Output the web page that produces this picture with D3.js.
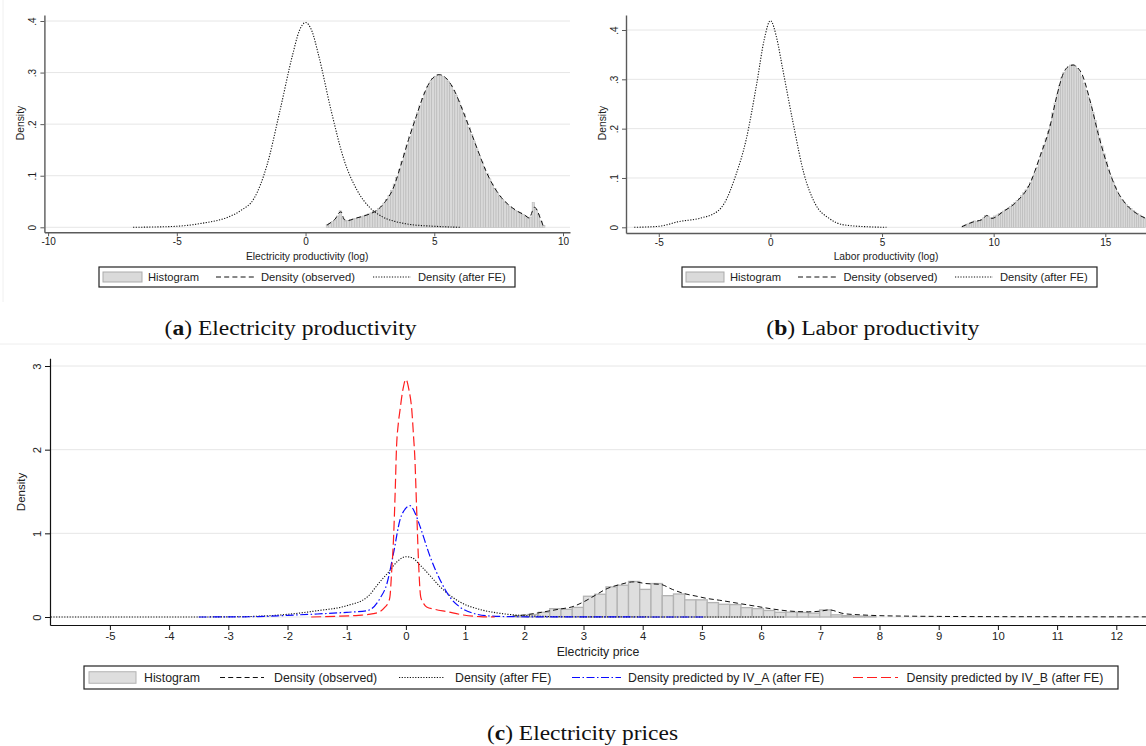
<!DOCTYPE html>
<html>
<head>
<meta charset="utf-8">
<script src="https://cdn.jsdelivr.net/npm/d3@7"></script>
<style>
  body { margin: 0; background: #fff; }
  svg { display: block; font-family: "Liberation Sans", Arial, sans-serif; }
</style>
</head>
<body>
<svg id="chart" width="1146" height="746"></svg>
<script>
// ---------- panel (a) electricity productivity (log) ----------
var aHistStart = 0.8, aHistWidth = 0.1;
var aHist = [0.006, 0.008, 0.011, 0.014, 0.022, 0.032, 0.018, 0.012, 0.013, 0.015,
             0.016, 0.017, 0.019, 0.020, 0.022, 0.024, 0.026, 0.028, 0.031, 0.033,
             0.037, 0.041, 0.047, 0.054, 0.062, 0.072, 0.084, 0.097, 0.112, 0.128,
             0.144, 0.160, 0.176, 0.192, 0.207, 0.222, 0.237, 0.250, 0.262, 0.273,
             0.282, 0.289, 0.293, 0.296, 0.295, 0.292, 0.288, 0.283, 0.275, 0.266,
             0.256, 0.245, 0.233, 0.220, 0.207, 0.194, 0.180, 0.166, 0.152, 0.139,
             0.127, 0.115, 0.104, 0.094, 0.084, 0.075, 0.067, 0.060, 0.054, 0.049,
             0.044, 0.040, 0.036, 0.033, 0.030, 0.028, 0.025, 0.022, 0.018, 0.020,
             0.048, 0.035, 0.025, 0.012, 0.004];
var aObsX = [0.83, 1.0, 1.15, 1.3, 1.38, 1.5, 1.65, 1.9, 2.2, 2.5, 2.8, 3.1, 3.4, 3.7, 4.0, 4.3, 4.6, 4.9,
             5.2, 5.5, 5.8, 6.1, 6.4, 6.7, 7.0, 7.3, 7.6, 7.9, 8.2, 8.5, 8.7, 8.8, 8.9, 9.0, 9.1, 9.25];
var aObsY = [0.004, 0.01, 0.016, 0.028, 0.03, 0.015, 0.013, 0.017, 0.021, 0.026, 0.034, 0.05, 0.075, 0.12,
             0.17, 0.215, 0.258, 0.287, 0.296, 0.287, 0.263, 0.227, 0.188, 0.148, 0.11, 0.08, 0.058,
             0.043, 0.032, 0.024, 0.018, 0.03, 0.039, 0.032, 0.02, 0.0];
var aFeX = [-6.7, -6, -5, -4, -3, -2.5, -2, -1.5, -1, -0.5, -0.25, 0, 0.25, 0.5, 1, 1.5, 2, 2.5, 3, 3.5, 4, 5, 6];
var aFeY = [0, 0.0005, 0.002, 0.008, 0.02, 0.033, 0.056, 0.12, 0.225, 0.335, 0.38, 0.397, 0.38, 0.335,
            0.225, 0.13, 0.072, 0.038, 0.02, 0.011, 0.006, 0.002, 0];
var aXTicks = [-10, -5, 0, 5, 10];
var aYTicks = [0, 0.1, 0.2, 0.3, 0.4];

// ---------- panel (b) labor productivity (log) ----------
var bHistStart = 8.6, bHistWidth = 0.1;
var bHist = [0.003, 0.005, 0.007, 0.009, 0.011, 0.013, 0.012, 0.014, 0.016, 0.019,
             0.024, 0.023, 0.019, 0.020, 0.023, 0.025, 0.028, 0.030, 0.033, 0.036,
             0.039, 0.042, 0.046, 0.050, 0.054, 0.059, 0.064, 0.070, 0.076, 0.083,
             0.091, 0.100, 0.110, 0.122, 0.138, 0.152, 0.166, 0.180, 0.194, 0.209,
             0.232, 0.252, 0.270, 0.288, 0.303, 0.314, 0.321, 0.326, 0.329, 0.330,
             0.327, 0.322, 0.315, 0.305, 0.292, 0.278, 0.264, 0.249, 0.233, 0.217,
             0.198, 0.181, 0.165, 0.149, 0.133, 0.118, 0.104, 0.092, 0.082, 0.072,
             0.063, 0.056, 0.050, 0.046, 0.042, 0.038, 0.034, 0.031, 0.028, 0.025,
             0.022, 0.019];
var bObsX = [8.57, 9.09, 9.5, 9.69, 9.91, 10.43, 11.03, 11.63, 12.07, 12.52, 12.82, 13.12, 13.35, 13.56,
             13.75, 13.94, 14.31, 14.68, 15.06, 15.51, 15.96, 16.4, 16.82];
var bObsY = [0.001, 0.011, 0.016, 0.024, 0.018, 0.032, 0.052, 0.089, 0.143, 0.204, 0.265, 0.312, 0.326,
             0.329, 0.324, 0.312, 0.258, 0.19, 0.13, 0.076, 0.045, 0.028, 0.018];
var bFeX = [-6.1, -5, -4.65, -4.16, -3.19, -2.38, -2.06, -1.57, -1.09, -0.61, -0.28, 0, 0.3, 0.53, 1.02,
            1.5, 1.99, 2.63, 3.28, 4.4, 5.2];
var bFeY = [0, 0.002, 0.005, 0.011, 0.018, 0.032, 0.049, 0.103, 0.177, 0.292, 0.38, 0.419, 0.38, 0.326,
            0.211, 0.109, 0.049, 0.018, 0.005, 0.001, 0];
var bXTicks = [-5, 0, 5, 10, 15];
var bYTicks = [0, 0.1, 0.2, 0.3, 0.4];

// ---------- panel (c) electricity prices ----------
var cHistStart = 1.86, cHistWidth = 0.19;
var cHist = [0.012, 0.03, 0.056, 0.10, 0.092, 0.115, 0.248, 0.272, 0.36, 0.38, 0.425, 0.33, 0.40, 0.255,
             0.275, 0.205, 0.205, 0.172, 0.152, 0.148, 0.112, 0.10, 0.078, 0.056, 0.058, 0.054, 0.046,
             0.085, 0.026, 0.016, 0.011, 0.008];
var cObsX = [1.8, 2.0, 2.2, 2.4, 2.6, 2.8, 3.0, 3.2, 3.4, 3.6, 3.85, 4.05, 4.3, 4.5, 4.7, 4.9, 5.1, 5.3,
             5.6, 5.9, 6.2, 6.5, 6.8, 7.0, 7.15, 7.4, 7.7, 8.0, 8.5, 9, 10, 11, 12, 12.5];
var cObsY = [0.01, 0.025, 0.045, 0.07, 0.095, 0.12, 0.18, 0.26, 0.34, 0.385, 0.42, 0.4, 0.39, 0.33, 0.28,
             0.25, 0.22, 0.2, 0.165, 0.13, 0.095, 0.07, 0.062, 0.07, 0.085, 0.04, 0.025, 0.016, 0.01,
             0.007, 0.004, 0.003, 0.002, 0.002];
var cFeX = [-6, -4, -3, -2.5, -2, -1.5, -1, -0.65, -0.44, -0.3, -0.15, 0, 0.1, 0.24, 0.4, 0.58, 0.91, 1.25,
            1.53, 1.93, 2.3, 3, 4, 5, 6.4];
var cFeY = [0, 0, 0.002, 0.009, 0.032, 0.075, 0.135, 0.24, 0.42, 0.53, 0.66, 0.72, 0.71, 0.62, 0.5, 0.36,
            0.18, 0.09, 0.05, 0.02, 0.008, 0.002, 0.001, 0, 0];
var cIvAX = [-3.5, -3, -2.5, -2, -1.5, -1, -0.65, -0.44, -0.32, -0.21, -0.1, 0, 0.07, 0.15, 0.24, 0.41,
             0.58, 0.74, 0.91, 1.14, 1.42, 1.8, 2.5, 5.05];
var cIvAY = [0, 0.001, 0.004, 0.02, 0.036, 0.056, 0.076, 0.22, 0.4, 0.76, 1.16, 1.3, 1.33, 1.25, 1.08,
             0.72, 0.44, 0.24, 0.12, 0.044, 0.012, 0.004, 0.001, 0];
var cIvBX = [-1.6, -1.2, -0.8, -0.55, -0.44, -0.35, -0.3, -0.27, -0.24, -0.21, -0.18, -0.16, -0.13, -0.1,
             -0.05, 0.0, 0.05, 0.1, 0.13, 0.15, 0.18, 0.21, 0.25, 0.3, 0.35, 0.5, 0.69, 0.97, 1.25, 1.5];
var cIvBY = [0, 0.008, 0.02, 0.04, 0.064, 0.12, 0.17, 0.24, 0.55, 0.92, 1.52, 2.0, 2.3, 2.47, 2.72, 2.84,
             2.72, 2.47, 2.15, 1.92, 1.32, 0.72, 0.24, 0.16, 0.12, 0.09, 0.064, 0.024, 0.004, 0];
var cXTicks = [-5, -4, -3, -2, -1, 0, 1, 2, 3, 4, 5, 6, 7, 8, 9, 10, 11, 12];
var cYTicks = [0, 1, 2, 3];

var legendAB = ["Histogram", "Density (observed)", "Density (after FE)"];
var legendC = ["Histogram", "Density (observed)", "Density (after FE)",
               "Density predicted by IV_A (after FE)", "Density predicted by IV_B (after FE)"];

// line styles
var S = {
  obs: { color: "#111", dash: "5,3.2", width: 1 },
  fe:  { color: "#111", dash: "1.2,1.5", width: 1.1 },
  ivA: { color: "#0a0aff", dash: "8,2.5,1.5,2.5", width: 1.2 },
  ivB: { color: "#ff1e1e", dash: "10,4", width: 1.2 }
};

var svg = d3.select("#chart");

// faint frame lines from the source figure
svg.append("line").attr("x1", 3).attr("x2", 3).attr("y1", 0).attr("y2", 302)
  .attr("stroke", "#f0f0f0");
svg.append("line").attr("x1", 0).attr("x2", 1146).attr("y1", 344).attr("y2", 344)
  .attr("stroke", "#eeeeee");

// Stata style labels: hyphen minus, ".1" for decimals
function xFmt(d) { return String(d); }
function yFmtStata(d) { return d === 0 ? "0" : d3.format(".1f")(d).replace(/^0/, ""); }

function drawPanel(p) {
  var g = svg.append("g");
  var x = d3.scaleLinear().domain(p.xAnchor).range(p.xAnchorPx);
  var y = d3.scaleLinear().domain(p.yAnchor).range(p.yAnchorPx);
  var xAx = x.copy().domain([x.invert(p.left), x.invert(p.right)]).range([p.left, p.right]);
  var yAx = y.copy().domain([y.invert(p.axisY), y.invert(p.top)]).range([p.axisY, p.top]);

  // grid
  g.append("g").selectAll("line").data(p.yTicks).enter().append("line")
    .attr("x1", p.left + 1).attr("x2", p.right)
    .attr("y1", function(d) { return y(d); }).attr("y2", function(d) { return y(d); })
    .attr("stroke", "#e6e6e6").attr("stroke-width", 1);

  // histogram
  g.append("g").selectAll("rect").data(p.hist).enter().append("rect")
    .attr("x", function(d, i) { return x(p.histStart + i * p.histWidth); })
    .attr("width", x(p.histWidth) - x(0))
    .attr("y", function(d) { return y(d); })
    .attr("height", function(d) { return y(0) - y(d); })
    .attr("fill", p.barFill).attr("stroke", p.barStroke).attr("stroke-width", p.barStrokeW);

  // density curves
  var line = d3.line()
    .x(function(d) { return x(d[0]); })
    .y(function(d) { return y(d[1]); })
    .curve(d3.curveMonotoneX);
  p.lines.forEach(function(l) {
    var pts = l.xs.map(function(v, i) { return [v, l.ys[i]]; });
    g.append("path").datum(pts).attr("d", line)
      .attr("fill", "none").attr("stroke", l.style.color)
      .attr("stroke-width", l.style.width).attr("stroke-dasharray", l.style.dash);
  });

  // x axis
  var gx = g.append("g").attr("transform", "translate(0," + p.axisY + ")")
    .call(d3.axisBottom(xAx).tickValues(p.xTicks).tickSize(p.tickLen).tickSizeOuter(0)
      .tickPadding(2).tickFormat(xFmt));
  gx.select(".domain").attr("stroke", p.axisColor).attr("stroke-width", p.axisW);
  gx.selectAll(".tick line").attr("stroke", p.axisColor).attr("stroke-width", 1);
  gx.selectAll(".tick text").attr("font-size", p.tickFont).attr("fill", "#222")
    .attr("font-family", "Liberation Sans, Arial, sans-serif");

  // y axis
  var gy = g.append("g").attr("transform", "translate(" + p.left + ",0)")
    .call(d3.axisLeft(yAx).tickValues(p.yTicks).tickSize(p.tickLen).tickSizeOuter(0)
      .tickFormat(p.yFmt));
  gy.select(".domain").attr("stroke", p.axisColor).attr("stroke-width", p.axisW);
  gy.selectAll(".tick line").attr("stroke", p.axisColor).attr("stroke-width", 1);
  gy.selectAll(".tick text")
    .attr("x", null).attr("dy", null)
    .attr("transform", "translate(" + (-p.tickLen - 4) + ",0) rotate(-90)")
    .attr("text-anchor", "middle")
    .attr("font-size", p.tickFont).attr("fill", "#222")
    .attr("font-family", "Liberation Sans, Arial, sans-serif");

  // axis titles
  g.append("text").attr("x", (p.left + p.right) / 2).attr("y", p.xLabelY)
    .attr("text-anchor", "middle").attr("font-size", p.labelFont).attr("fill", "#222")
    .text(p.xLabel);
  g.append("text").attr("transform", "translate(" + p.yLabelX + "," + p.yLabelY + ") rotate(-90)")
    .attr("text-anchor", "middle").attr("font-size", p.yLabelFont).attr("fill", "#222")
    .text("Density");
}

function drawLegend(box, items, fontSize) {
  var lg = svg.append("g");
  lg.append("rect").attr("x", box.x).attr("y", box.y).attr("width", box.w).attr("height", box.h)
    .attr("fill", "#fff").attr("stroke", "#222").attr("stroke-width", 1.2);
  var cy = box.y + box.h / 2;
  items.forEach(function(it) {
    if (it.kind === "bar") {
      lg.append("rect").attr("x", it.x0).attr("y", cy - it.sh / 2).attr("width", it.x1 - it.x0)
        .attr("height", it.sh).attr("fill", it.fill).attr("stroke", it.stroke).attr("stroke-width", 1);
    } else {
      lg.append("line").attr("x1", it.x0).attr("x2", it.x1).attr("y1", cy).attr("y2", cy)
        .attr("stroke", it.style.color).attr("stroke-width", it.style.width)
        .attr("stroke-dasharray", it.style.dash);
    }
    lg.append("text").attr("x", it.tx).attr("y", cy).attr("dy", "0.36em")
      .attr("font-size", fontSize).attr("fill", "#222").text(it.label);
  });
}

// panel a
drawPanel({
  xAnchor: [-10, 10], xAnchorPx: [48.1, 563],
  yAnchor: [0, 0.4], yAnchorPx: [227.3, 21],
  left: 44.4, right: 570, top: 15, axisY: 232.3,
  hist: aHist, histStart: aHistStart, histWidth: aHistWidth,
  barFill: "#d9d9d9", barStroke: "#b2b2b2", barStrokeW: 0.5,
  lines: [{ xs: aFeX, ys: aFeY, style: S.fe }, { xs: aObsX, ys: aObsY, style: S.obs }],
  xTicks: aXTicks, yTicks: aYTicks, yFmt: yFmtStata,
  tickLen: 4, tickFont: 10, axisColor: "#5a5a5a", axisW: 1.4,
  xLabel: "Electricity productivity (log)", xLabelY: 259.5, labelFont: 10.3,
  yLabelX: 23.5, yLabelY: 123, yLabelFont: 10.3
});
drawLegend({ x: 99, y: 267, w: 416, h: 20 }, [
  { kind: "bar", x0: 103, x1: 142, sh: 10, fill: "#dadada", stroke: "#ababab", tx: 148, label: legendAB[0] },
  { kind: "line", x0: 216, x1: 254, style: S.obs, tx: 261, label: legendAB[1] },
  { kind: "line", x0: 373, x1: 411, style: S.fe, tx: 418, label: legendAB[2] }
], 11.2);

// panel b
drawPanel({
  xAnchor: [0, 15], xAnchorPx: [770.4, 1105.3],
  yAnchor: [0, 0.4], yAnchorPx: [227.3, 30],
  left: 626, right: 1146, top: 15, axisY: 233,
  hist: bHist, histStart: bHistStart, histWidth: bHistWidth,
  barFill: "#d9d9d9", barStroke: "#b2b2b2", barStrokeW: 0.5,
  lines: [{ xs: bFeX, ys: bFeY, style: S.fe }, { xs: bObsX, ys: bObsY, style: S.obs }],
  xTicks: bXTicks, yTicks: bYTicks, yFmt: yFmtStata,
  tickLen: 4, tickFont: 10, axisColor: "#5a5a5a", axisW: 1.4,
  xLabel: "Labor productivity (log)", xLabelY: 259.5, labelFont: 10.3,
  yLabelX: 606, yLabelY: 123, yLabelFont: 10.3
});
drawLegend({ x: 682, y: 267, w: 415, h: 20 }, [
  { kind: "bar", x0: 686, x1: 724, sh: 10, fill: "#dadada", stroke: "#ababab", tx: 730, label: legendAB[0] },
  { kind: "line", x0: 798, x1: 836, style: S.obs, tx: 843.5, label: legendAB[1] },
  { kind: "line", x0: 955, x1: 993, style: S.fe, tx: 1000, label: legendAB[2] }
], 11.2);

// panel c
drawPanel({
  xAnchor: [0, 12], xAnchorPx: [405.9, 1116.3],
  yAnchor: [0, 3], yAnchorPx: [617, 366],
  left: 50, right: 1146, top: 358.3, axisY: 625,
  hist: cHist, histStart: cHistStart, histWidth: cHistWidth,
  barFill: "#dedede", barStroke: "#b3b3b3", barStrokeW: 1.3,
  lines: [{ xs: cFeX, ys: cFeY, style: S.fe }, { xs: cObsX, ys: cObsY, style: S.obs },
          { xs: cIvAX, ys: cIvAY, style: S.ivA }, { xs: cIvBX, ys: cIvBY, style: S.ivB }],
  xTicks: cXTicks, yTicks: cYTicks, yFmt: xFmt,
  tickLen: 5, tickFont: 11.3, axisColor: "#111", axisW: 1.2,
  xLabel: "Electricity price", xLabelY: 656, labelFont: 12.3,
  yLabelX: 24.5, yLabelY: 492, yLabelFont: 11.5
});
drawLegend({ x: 84, y: 666, w: 1034, h: 23 }, [
  { kind: "bar", x0: 89, x1: 136, sh: 11.5, fill: "#dedede", stroke: "#b3b3b3", tx: 144, label: legendC[0] },
  { kind: "line", x0: 220, x1: 264, style: S.obs, tx: 274, label: legendC[1] },
  { kind: "line", x0: 399, x1: 444, style: S.fe, tx: 455, label: legendC[2] },
  { kind: "line", x0: 572, x1: 621, style: S.ivA, tx: 628, label: legendC[3] },
  { kind: "line", x0: 853, x1: 898, style: S.ivB, tx: 906.5, label: legendC[4] }
], 12.3);

// captions
var captions = [
  { letter: "a", text: "Electricity productivity", cx: 290.6, y: 335, len: 252 },
  { letter: "b", text: "Labor productivity", cx: 872.8, y: 335, len: 213 },
  { letter: "c", text: "Electricity prices", cx: 582.5, y: 740, len: 191 }
];
captions.forEach(function(c) {
  var t = svg.append("text").attr("x", c.cx).attr("y", c.y).attr("text-anchor", "middle")
    .attr("font-family", "Liberation Serif, Times New Roman, serif").attr("font-size", 20)
    .attr("fill", "#111").attr("textLength", c.len).attr("lengthAdjust", "spacingAndGlyphs");
  t.append("tspan").text("(");
  t.append("tspan").attr("font-weight", "bold").text(c.letter);
  t.append("tspan").text(") " + c.text);
});
</script>
</body>
</html>
